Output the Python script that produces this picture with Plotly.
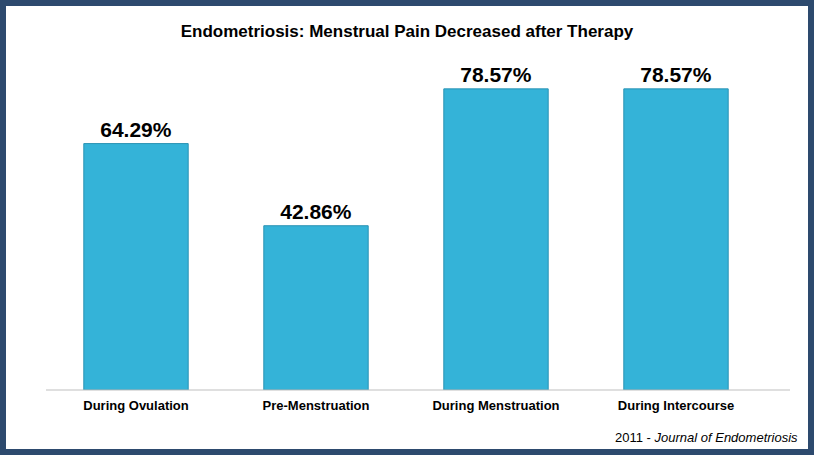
import plotly.graph_objects as go

categories = ["During Ovulation", "Pre-Menstruation", "During Menstruation", "During Intercourse"]
values = [64.29, 42.86, 78.57, 78.57]
labels = ["<b>64.29%</b>", "<b>42.86%</b>", "<b>78.57%</b>", "<b>78.57%</b>"]

W, H = 814, 455
L, R, T, B = 46, 48, 60, 65
pw, ph = W - L - R, H - T - B

fig = go.Figure(go.Bar(
    x=categories, y=values, text=labels, textposition="outside",
    textfont=dict(size=21, color="black", family="Liberation Sans"),
    marker=dict(color="#34b3d8", line=dict(color="#2a93b4", width=1)),
    cliponaxis=False,
))
fig.update_layout(
    width=W, height=H, margin=dict(l=L, r=R, t=T, b=B),
    plot_bgcolor="white", paper_bgcolor="white", bargap=0.42, showlegend=False,
    title=dict(text="<b>Endometriosis: Menstrual Pain Decreased after Therapy</b>",
               x=0.5, xanchor="center", y=1 - 31 / H, yanchor="middle",
               font=dict(size=17, color="black", family="Liberation Sans")),
    xaxis=dict(showline=False, tickfont=dict(size=13, color="black", family="Liberation Sans"),
               ticks="", ticklabelstandoff=6, tickprefix="<b>", ticksuffix="</b>"),
    yaxis=dict(range=[0, 86.1], visible=False),
    font=dict(family="Liberation Sans"),
)
fig.add_annotation(text="2011 - <i>Journal of Endometriosis</i>", xref="paper", yref="paper",
                   x=1 + 34 / pw, y=-(437 - (T + ph)) / ph, xanchor="right", yanchor="middle",
                   showarrow=False, font=dict(size=13, color="black"))
fig.add_shape(type="line", xref="paper", yref="paper", x0=0, x1=(790 - L) / pw, y0=0, y1=0,
              line=dict(color="#bfbfbf", width=1))
fig.add_shape(type="rect", xref="paper", yref="paper",
              x0=-(L - 3) / pw, x1=1 + (R - 3) / pw, y0=-(B - 3) / ph, y1=1 + (T - 3) / ph,
              line=dict(color="#2d4a6e", width=6))
fig.write_html("out.html", config={"displayModeBar": False},
               post_script="document.body.style.margin='0';document.body.style.overflow='hidden';")
